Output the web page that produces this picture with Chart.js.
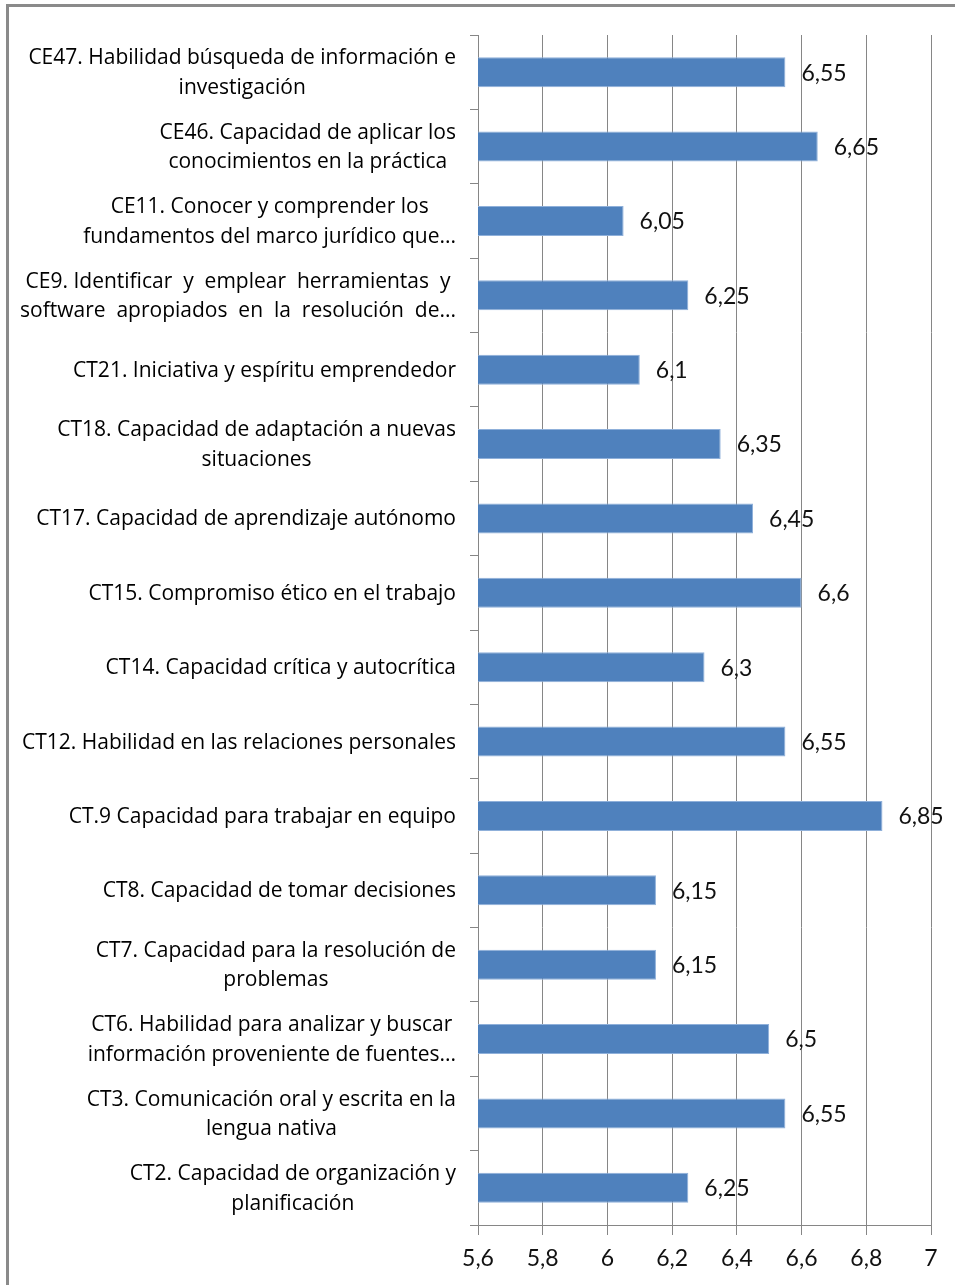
<!DOCTYPE html>
<html>
<head>
<meta charset="utf-8">
<script src="https://cdn.jsdelivr.net/npm/chart.js@4/dist/chart.umd.min.js"></script>
<style>
html, body { margin: 0; padding: 0; background: #fff; }
#frame { position: absolute; left: 6px; top: 4px; width: 960px; height: 1290px;
         border-left: 3px solid #8a8a8a; border-top: 3px solid #8a8a8a; }
#wrap { position: absolute; left: 0; top: 0; width: 955px; height: 1285px; }
</style>
</head>
<body>
<div id="frame"></div>
<div id="wrap"><canvas id="chart" width="955" height="1285"></canvas></div>
<script>
// --- Data ---
const categories = [
    ['CE47. Habilidad búsqueda de información e', 'investigación'],
    ['CE46. Capacidad de aplicar los', 'conocimientos en la práctica'],
    ['CE11. Conocer y comprender los', 'fundamentos del marco jurídico que...'],
    ['CE9. Identificar  y  emplear  herramientas  y', 'software  apropiados  en  la  resolución  de...'],
    ['CT21. Iniciativa y espíritu emprendedor'],
    ['CT18. Capacidad de adaptación a nuevas', 'situaciones'],
    ['CT17. Capacidad de aprendizaje autónomo'],
    ['CT15. Compromiso ético en el trabajo'],
    ['CT14. Capacidad crítica y autocrítica'],
    ['CT12. Habilidad en las relaciones personales'],
    ['CT.9 Capacidad para trabajar en equipo'],
    ['CT8. Capacidad de tomar decisiones'],
    ['CT7. Capacidad para la resolución de', 'problemas'],
    ['CT6. Habilidad para analizar y buscar', 'información proveniente de fuentes...'],
    ['CT3. Comunicación oral y escrita en la', 'lengua nativa'],
    ['CT2. Capacidad de organización y', 'planificación']
];
const values = [6.55, 6.65, 6.05, 6.25, 6.1, 6.35, 6.45, 6.6, 6.3, 6.55, 6.85, 6.15, 6.15, 6.5, 6.55, 6.25];
const xTickLabels = ['5,6', '5,8', '6', '6,2', '6,4', '6,6', '6,8', '7'];
const valueLabels = values.map(v => String(v).replace('.', ','));

const gridGray = '#868686';

// --- Category labels: right-aligned block, lines centred (like Excel) ---
const categoryLabels = {
    id: 'categoryLabels',
    afterDraw(chart) {
        const ctx = chart.ctx, ys = chart.scales.y;
        const right = ys.right - 22, lh = 29.5;
        ctx.save();
        ctx.font = '21px "Open Sans"';
        ctx.fillStyle = '#000';
        ctx.textAlign = 'center';
        ctx.textBaseline = 'middle';
        categories.forEach((lines, i) => {
            const yc = ys.getPixelForValue(i) + 1;
            const w = Math.max(...lines.map(l => ctx.measureText(l).width));
            const cx = right - w / 2;
            lines.forEach((l, j) => ctx.fillText(l, cx, yc + (j - (lines.length - 1) / 2) * lh));
        });
        ctx.restore();
    }
};

// --- Value labels at the end of each bar ---
const valueLabelPlugin = {
    id: 'valueLabels',
    afterDatasetsDraw(chart) {
        const ctx = chart.ctx;
        ctx.save();
        ctx.font = '23px Lato';
        ctx.fillStyle = '#111';
        ctx.textAlign = 'left';
        ctx.textBaseline = 'middle';
        chart.getDatasetMeta(0).data.forEach((bar, i) => {
            ctx.fillText(valueLabels[i], bar.x + 16, bar.y + 1);
        });
        ctx.restore();
    }
};

new Chart(document.getElementById('chart'), {
    type: 'bar',
    data: {
        labels: categories.map(c => c.join(' ')),
        datasets: [{
            data: values,
            backgroundColor: '#4F81BD',
            borderColor: '#8FB0DA',
            borderWidth: 1,
            barPercentage: 0.405,
            categoryPercentage: 1
        }]
    },
    options: {
        indexAxis: 'y',
        responsive: false,
        animation: false,
        layout: { padding: { top: 35, right: 24, left: 0, bottom: 0 } },
        plugins: { legend: { display: false }, tooltip: { enabled: false } },
        scales: {
            x: {
                min: 5.6, max: 7,
                ticks: {
                    stepSize: 0.2,
                    padding: 10,
                    color: '#111',
                    font: { family: 'Lato', size: 23 },
                    callback: (v, i) => xTickLabels[i]
                },
                grid: { color: gridGray, tickLength: 10 },
                border: { color: gridGray },
                afterFit: s => { s.height = 60; }
            },
            y: {
                ticks: { display: false },
                grid: { drawOnChartArea: false, color: gridGray, tickLength: 8, offset: true },
                border: { color: gridGray },
                afterFit: s => { s.width = 478; }
            }
        }
    },
    plugins: [categoryLabels, valueLabelPlugin]
});
</script>
</body>
</html>
